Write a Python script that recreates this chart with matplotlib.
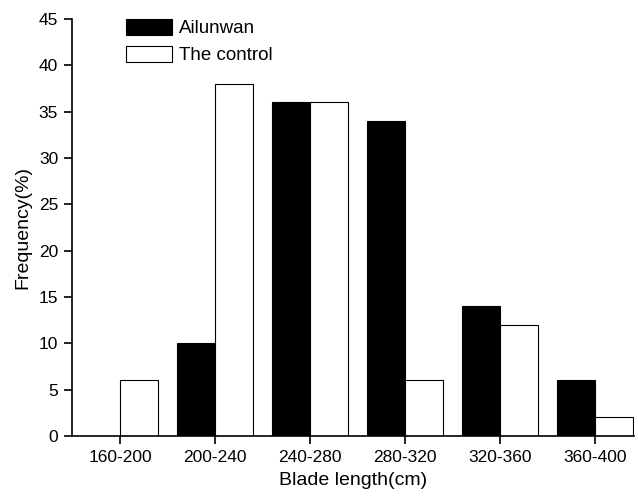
import numpy as np
import matplotlib
matplotlib.use("Agg")
import matplotlib.pyplot as plt

plt.rcParams['font.family'] = ['Liberation Sans', 'DejaVu Sans']

categories = ["160-200", "200-240", "240-280", "280-320", "320-360", "360-400"]
ailunwan = [0, 10, 36, 34, 14, 6]
control = [6, 38, 36, 6, 12, 2]

fig = plt.figure(figsize=(6.38, 4.96), dpi=100)
ax = fig.add_axes([0.113, 0.121, 0.881, 0.841])

x = np.arange(len(categories))
w = 0.4
ax.bar(x - w / 2, ailunwan, w, color="black", edgecolor="black", linewidth=0.8, label="Ailunwan")
ax.bar(x + w / 2, control, w, color="white", edgecolor="black", linewidth=0.8, label="The control")

ax.set_xlim(-0.505, 5.41)
ax.set_ylim(0, 45)
ax.set_yticks(range(0, 46, 5))
ax.set_xticks(x)
ax.set_xticklabels(categories)

for s in ["top", "right"]:
    ax.spines[s].set_visible(False)
for s in ["left", "bottom"]:
    ax.spines[s].set_linewidth(1.2)
ax.tick_params(direction="out", length=6, width=1.2, labelsize=12.5, pad=4)

ax.set_xlabel("Blade length(cm)", fontsize=14, labelpad=5)
ax.set_ylabel("Frequency(%)", fontsize=14, labelpad=5)

ax.legend(loc="upper left", bbox_to_anchor=(0.096, 1.0), frameon=False, fontsize=13.5,
          handlelength=2.45, handleheight=0.95, handletextpad=0.35, labelspacing=0.45,
          borderpad=0, borderaxespad=0)

fig.savefig("out.png", dpi=100)
